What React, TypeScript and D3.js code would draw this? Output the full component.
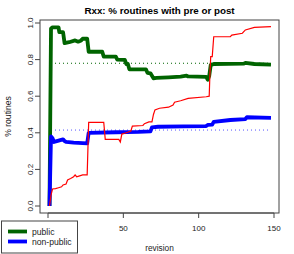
import React, { useEffect, useRef } from "react";
import * as d3 from "d3";

// revision / share pairs
const publicRev = [1, 2, 3, 7, 7.5, 10, 11, 14, 18, 20, 22, 23, 26, 27, 36, 37, 45, 46, 51, 52, 53, 54, 65, 66, 68, 70, 72, 80, 88, 92, 93, 105, 106, 107, 108, 110, 130, 131, 137, 148];
const publicVal = [0, 0.97, 0.976, 0.976, 0.95, 0.95, 0.89, 0.895, 0.905, 0.898, 0.905, 0.914, 0.914, 0.843, 0.843, 0.816, 0.816, 0.8, 0.798, 0.776, 0.776, 0.747, 0.747, 0.728, 0.725, 0.698, 0.7, 0.703, 0.707, 0.712, 0.708, 0.706, 0.69, 0.71, 0.77, 0.776, 0.778, 0.782, 0.776, 0.772];

const nonPublicRev = [1, 2, 3, 4, 7, 10, 11, 12, 17, 26, 27, 45, 60, 68, 69, 73, 90, 105, 106, 109, 110, 121, 131, 132, 148];
const nonPublicVal = [0, 0.38, 0.37, 0.35, 0.357, 0.364, 0.355, 0.35, 0.346, 0.342, 0.4, 0.403, 0.405, 0.408, 0.43, 0.433, 0.435, 0.437, 0.443, 0.445, 0.46, 0.47, 0.475, 0.485, 0.482];

const otherRev = [1, 2, 3, 5, 7, 9, 10, 12, 13, 15, 17, 18, 19, 21, 23, 26, 27, 37, 38, 47, 48, 49, 52, 55, 56, 63, 64, 67, 69, 70, 71, 74, 80, 83, 84, 88, 93, 105, 107, 107.5, 108, 109, 110, 121, 122, 129, 131, 137, 148];
const otherVal = [0, 0.06, 0.093, 0.095, 0.1, 0.105, 0.115, 0.12, 0.142, 0.15, 0.16, 0.17, 0.16, 0.165, 0.17, 0.17, 0.457, 0.457, 0.364, 0.364, 0.35, 0.393, 0.4, 0.41, 0.437, 0.44, 0.45, 0.46, 0.46, 0.5, 0.525, 0.534, 0.54, 0.552, 0.567, 0.575, 0.588, 0.597, 0.6, 0.73, 0.816, 0.816, 0.925, 0.925, 0.934, 0.944, 0.962, 0.976, 0.98];

// reference (dotted) levels
const publicRef = 0.78;
const nonPublicRef = 0.415;
const refSpan = [2, 148];

const xTicks = [0, 50, 100, 150];
const yTicks = [0, 0.2, 0.4, 0.6, 0.8, 1.0];
const legendLabels = ["public", "non-public"];

const W = 294, H = 254;
const box = { left: 40, right: 279, top: 20, bottom: 213 };

export default function App() {
  const ref = useRef<SVGSVGElement>(null);

  useEffect(() => {
    const svg = d3.select(ref.current);
    svg.selectAll("*").remove();
    const font = "'Liberation Sans', Arial, sans-serif";

    const x = d3.scaleLinear().domain([0, 150]).range([48, 274]);
    const y = d3.scaleLinear().domain([0, 1]).range([206, 23]);

    const line = d3.line<[number, number]>().x(d => x(d[0])).y(d => y(d[1]));
    const zip = (a: number[], b: number[]) => a.map((v, i) => [v, b[i]] as [number, number]);

    const g = svg.append("g");

    // dotted reference lines
    g.append("path")
      .attr("d", line(refSpan.map(r => [r, publicRef] as [number, number])))
      .attr("stroke", "#006400").attr("stroke-width", 1).attr("stroke-dasharray", "1,3").attr("fill", "none");
    g.append("path")
      .attr("d", line(refSpan.map(r => [r, nonPublicRef] as [number, number])))
      .attr("stroke", "#5555ff").attr("stroke-width", 1).attr("stroke-dasharray", "1,3").attr("fill", "none");

    // series
    g.append("path").attr("d", line(zip(publicRev, publicVal)))
      .attr("stroke", "#006400").attr("stroke-width", 3.8).attr("fill", "none").attr("stroke-linejoin", "round");
    g.append("path").attr("d", line(zip(nonPublicRev, nonPublicVal)))
      .attr("stroke", "#0000ff").attr("stroke-width", 3.8).attr("fill", "none").attr("stroke-linejoin", "round");
    g.append("path").attr("d", line(zip(otherRev, otherVal)))
      .attr("stroke", "#ff0000").attr("stroke-width", 1.2).attr("fill", "none");

    // box
    svg.append("rect")
      .attr("x", box.left).attr("y", box.top)
      .attr("width", box.right - box.left).attr("height", box.bottom - box.top)
      .attr("fill", "none").attr("stroke", "#444").attr("stroke-width", 1);

    // x axis (the "0" label sits under the legend, so only its tick is drawn)
    const xa = svg.append("g").attr("transform", `translate(0,${box.bottom})`);
    xa.append("line").attr("x1", x(0)).attr("x2", x(150)).attr("stroke", "#444");
    xTicks.forEach(t => {
      xa.append("line").attr("x1", x(t)).attr("x2", x(t)).attr("y1", 0).attr("y2", 5).attr("stroke", "#444");
      if (t > 0) {
        xa.append("text").attr("x", x(t)).attr("y", 18).attr("text-anchor", "middle")
          .attr("font-family", font).attr("font-size", 8).attr("fill", "#222").text(t);
      }
    });

    // y axis
    const ya = svg.append("g").attr("transform", `translate(${box.left},0)`);
    yTicks.forEach(t => {
      ya.append("line").attr("x1", -5).attr("x2", 0).attr("y1", y(t)).attr("y2", y(t)).attr("stroke", "#444");
      ya.append("text").attr("transform", `translate(-7.5,${y(t)}) rotate(-90)`).attr("text-anchor", "middle")
        .attr("font-family", font).attr("font-size", 8).attr("fill", "#222").text(t.toFixed(1));
    });

    // titles
    svg.append("text").attr("x", (box.left + box.right) / 2).attr("y", 14).attr("text-anchor", "middle")
      .attr("font-family", font).attr("font-size", 9.8).attr("font-weight", "bold").text("Rxx: % routines with pre or post");
    svg.append("text").attr("x", (box.left + box.right) / 2).attr("y", 251).attr("text-anchor", "middle")
      .attr("font-family", font).attr("font-size", 8.3).attr("fill", "#222").text("revision");
    svg.append("text").attr("transform", `translate(11,${(box.top + box.bottom) / 2}) rotate(-90)`).attr("text-anchor", "middle")
      .attr("font-family", font).attr("font-size", 8.6).attr("fill", "#222").text("% routines");

    // legend
    const lg = svg.append("g");
    lg.append("rect").attr("x", 1.5).attr("y", 221).attr("width", 76).attr("height", 32)
      .attr("fill", "white").attr("stroke", "#444");
    const colors = ["#006400", "#0000ff"];
    legendLabels.forEach((lab, i) => {
      const ly = 231.5 + i * 10;
      lg.append("line").attr("x1", 8).attr("x2", 27).attr("y1", ly).attr("y2", ly)
        .attr("stroke", colors[i]).attr("stroke-width", 3.8);
      lg.append("text").attr("x", 32).attr("y", ly + 3).attr("font-family", font).attr("font-size", 8.6)
        .attr("fill", "#222").text(lab);
    });
  }, []);

  return (
    <svg ref={ref} width={W} height={H} style={{ position: "absolute", left: 0, top: 0, background: "white" }} />
  );
}
